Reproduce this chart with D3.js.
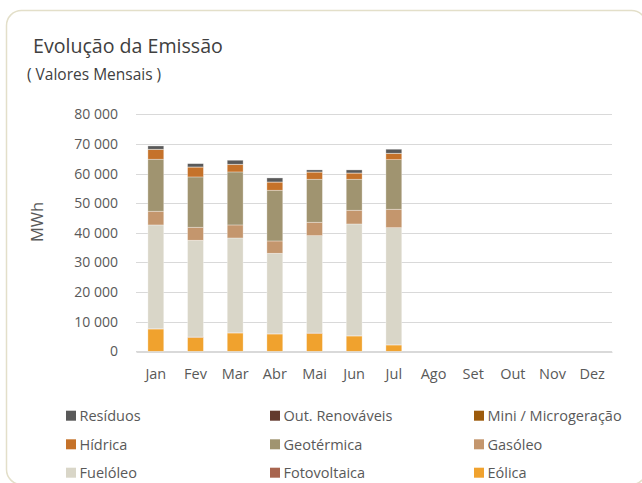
<!DOCTYPE html>
<html>
<head>
<meta charset="utf-8">
<script src="https://cdn.jsdelivr.net/npm/d3@7"></script>
<style>
  body { margin: 0; background: #fff; }
  svg { font-family: "Open Sans", "Noto Sans", sans-serif; }
</style>
</head>
<body>
<svg id="chart" width="642" height="483"></svg>
<script>
// data (MWh)
const months = ["Jan", "Fev", "Mar", "Abr", "Mai", "Jun", "Jul", "Ago", "Set", "Out", "Nov", "Dez"];
const eolica = [7530, 4730, 6180, 5840, 6080, 5170, 2130];
const fotovoltaica = [100, 100, 100, 100, 100, 100, 100];
const fueloleo = [35040, 32670, 31990, 27160, 32870, 37730, 39520];
const gasoleo = [4630, 4390, 4400, 4160, 4530, 4630, 6220];
const geotermica = [17560, 16990, 17900, 17130, 14520, 10470, 16750];
const hidrica = [3330, 3330, 2550, 2750, 2420, 2080, 2120];
const microgeracao = [50, 50, 50, 50, 50, 50, 50];
const outRenovaveis = [0, 0, 0, 0, 0, 0, 0];
const residuos = [1110, 1110, 1350, 1350, 680, 1020, 1350];
const yTicks = [0, 10000, 20000, 30000, 40000, 50000, 60000, 70000, 80000];

// bottom to top
const series = [
  { key: "Eólica", values: eolica, color: "#f0a22e" },
  { key: "Fotovoltaica", values: fotovoltaica, color: "#a8654f" },
  { key: "Fuelóleo", values: fueloleo, color: "#d9d6c8" },
  { key: "Gasóleo", values: gasoleo, color: "#c4966d" },
  { key: "Geotérmica", values: geotermica, color: "#a09470" },
  { key: "Hídrica", values: hidrica, color: "#c5722a" },
  { key: "Mini / Microgeração", values: microgeracao, color: "#9c5a0b" },
  { key: "Out. Renováveis", values: outRenovaveis, color: "#633a2e" },
  { key: "Resíduos", values: residuos, color: "#595959" }
];

const svg = d3.select("#chart");

// frame
svg.append("rect")
  .attr("x", 6.5).attr("y", 10.5)
  .attr("width", 640).attr("height", 474)
  .attr("rx", 15)
  .attr("fill", "none")
  .attr("stroke", "#e3dfc9")
  .attr("stroke-width", 1.5);

svg.append("text")
  .attr("x", 33).attr("y", 53)
  .attr("font-size", 19.6)
  .attr("fill", "#404040")
  .text("Evolução da Emissão");

svg.append("text")
  .attr("x", 27).attr("y", 80)
  .attr("font-size", 15.5)
  .attr("fill", "#404040")
  .text("( Valores Mensais )");

const x = d3.scaleBand().domain(months).range([136, 612]).paddingInner(0.6).paddingOuter(0.3);
const y = d3.scaleLinear().domain([0, 80000]).range([351.3, 114.4]);

// gridlines
svg.append("g")
  .selectAll("line")
  .data(yTicks)
  .join("line")
  .attr("x1", 136).attr("x2", 612)
  .attr("y1", d => Math.round(y(d)) + 0.5)
  .attr("y2", d => Math.round(y(d)) + 0.5)
  .attr("stroke", "#d9d9d9")
  .attr("stroke-width", 1.2);

// y axis labels
const fmt = d => d === 0 ? "0" : d3.format(",")(d).replace(/,/g, " ");
const yAxis = svg.append("g")
  .attr("transform", "translate(118,0)")
  .call(d3.axisLeft(y).tickValues(yTicks).tickFormat(fmt).tickSize(0).tickPadding(0));
yAxis.select(".domain").remove();
yAxis.selectAll("text")
  .attr("font-size", 14).attr("fill", "#595959")
  .attr("font-family", "'Open Sans', sans-serif");

svg.append("text")
  .attr("transform", "translate(43,222) rotate(-90)")
  .attr("text-anchor", "middle")
  .attr("font-size", 16.5).attr("fill", "#595959")
  .text("MWh");

// stacked bars
const rows = months.slice(0, eolica.length).map((m, i) => {
  const r = { month: m };
  series.forEach(s => { r[s.key] = s.values[i]; });
  return r;
});
const stack = d3.stack().keys(series.map(s => s.key))(rows);

svg.append("g")
  .selectAll("g")
  .data(stack)
  .join("g")
  .attr("fill", (d, i) => series[i].color)
  .selectAll("rect")
  .data(d => d)
  .join("rect")
  .attr("x", d => x(d.data.month))
  .attr("width", x.bandwidth())
  .attr("y", d => y(d[1]))
  .attr("height", d => Math.max(0, y(d[0]) - y(d[1])))
  .attr("stroke", "rgba(255,255,255,0.45)")
  .attr("stroke-width", 0.7);

// x axis
const xAxis = svg.append("g")
  .attr("transform", "translate(0,351.8)")
  .call(d3.axisBottom(x).tickSize(0).tickPadding(17));
xAxis.select(".domain").attr("stroke", "#d9d9d9").attr("stroke-width", 1.2);
xAxis.selectAll("text")
  .attr("font-size", 14.5).attr("fill", "#595959")
  .attr("font-family", "'Open Sans', sans-serif");

// legend
const legendOrder = ["Resíduos", "Out. Renováveis", "Mini / Microgeração",
  "Hídrica", "Geotérmica", "Gasóleo",
  "Fuelóleo", "Fotovoltaica", "Eólica"];
const legendCols = [66, 270, 474];
const legendRows = [415.7, 444.3, 472.7];
const legend = svg.append("g")
  .selectAll("g")
  .data(legendOrder)
  .join("g")
  .attr("transform", (d, i) => `translate(${legendCols[i % 3]},${legendRows[Math.floor(i / 3)]})`);
legend.append("rect")
  .attr("x", 0).attr("y", -5)
  .attr("width", 10).attr("height", 10)
  .attr("fill", d => series.find(s => s.key === d).color);
legend.append("text")
  .attr("x", 13.5).attr("y", 5.5)
  .attr("font-size", 14.5).attr("fill", "#595959")
  .text(d => d);
</script>
</body>
</html>
